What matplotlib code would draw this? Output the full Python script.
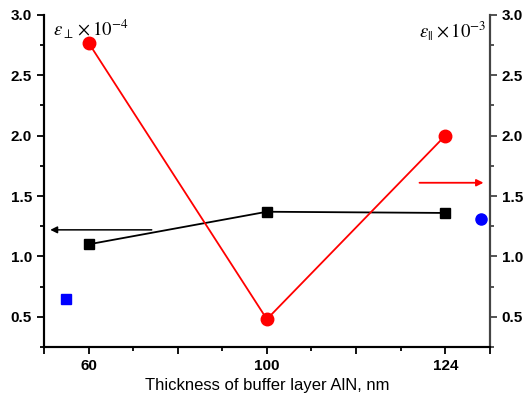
import matplotlib
matplotlib.use("Agg")
import matplotlib.pyplot as plt
from matplotlib.ticker import MultipleLocator, FixedLocator

plt.rcParams['font.family'] = ['Liberation Sans', 'DejaVu Sans']
plt.rcParams['mathtext.fontset'] = 'stix'

# data (x positions are category slots: 60, 100, 124 nm)
xpos = [1, 2, 3]
xlabels = ['60', '100', '124']
eps_perp = [1.10, 1.37, 1.36]      # left axis, x1e-4
eps_par = [2.77, 0.48, 2.00]       # right axis, x1e-3
blue_sq_x, blue_sq_y = 0.875, 0.65
blue_ci_x, blue_ci_y = 3.2, 1.31

fig = plt.figure(figsize=(5.29, 4.03), dpi=100)
ax = fig.add_axes([0.083, 0.139, 0.843, 0.824])
ax2 = ax.twinx()

ax.plot(xpos, eps_perp, color='black', lw=1.3, marker='s', ms=7.5, zorder=3)
ax.plot([blue_sq_x], [blue_sq_y], ls='none', marker='s', ms=7.5, color='#0000ff')
ax2.plot(xpos, eps_par, color='#ff0000', lw=1.3, marker='o', ms=9, zorder=3)
ax2.plot([blue_ci_x], [blue_ci_y], ls='none', marker='o', ms=8, color='#0000ff')

# arrows pointing at axes
ax.annotate('', xy=(0.77, 1.22), xytext=(1.37, 1.22),
            arrowprops=dict(arrowstyle='-|>', color='black', lw=1.1, mutation_scale=10))
ax2.annotate('', xy=(3.23, 1.61), xytext=(2.84, 1.61),
             arrowprops=dict(arrowstyle='-|>', color='#ff0000', lw=1.3, mutation_scale=10))

for a in (ax, ax2):
    a.set_xlim(0.75, 3.25)
    a.set_ylim(0.25, 3.0)
    a.yaxis.set_major_locator(MultipleLocator(0.5))
    a.yaxis.set_minor_locator(MultipleLocator(0.25))

ax.xaxis.set_major_locator(FixedLocator([0.75, 1, 1.5, 2, 2.5, 3, 3.25]))
ax.set_xticklabels(['', xlabels[0], '', xlabels[1], '', xlabels[2], ''])
ax.xaxis.set_minor_locator(MultipleLocator(0.25))

ax.set_yticks([0.5, 1.0, 1.5, 2.0, 2.5, 3.0])
ax2.set_yticks([0.5, 1.0, 1.5, 2.0, 2.5, 3.0])

ax.spines['top'].set_visible(False)
ax2.spines['top'].set_visible(False)
ax2.spines['right'].set_color('#444444')
for a in (ax, ax2):
    for s in a.spines.values():
        s.set_linewidth(1.5)

ax.tick_params(axis='both', which='major', direction='out', length=5, width=1.3,
               labelsize=11)
ax.tick_params(axis='both', which='minor', direction='out', length=3, width=1.3)
ax2.tick_params(axis='y', which='major', direction='out', length=5, width=1.3,
                labelsize=11, color='#444444')
ax2.tick_params(axis='y', which='minor', direction='out', length=3, width=1.3,
                color='#444444')
for lab in ax.get_xticklabels() + ax.get_yticklabels() + ax2.get_yticklabels():
    lab.set_fontweight('bold')

ax.set_xlabel('Thickness of buffer layer AlN, nm', fontsize=12)

ax.text(0.8, 2.98, r'$\varepsilon_{\perp}\times10^{-4}$', fontsize=13.5,
        ha='left', va='top')
ax.text(3.23, 2.97, r'$\varepsilon_{||}\times10^{-3}$', fontsize=13.5,
        ha='right', va='top')

fig.savefig('out.png', dpi=100)
